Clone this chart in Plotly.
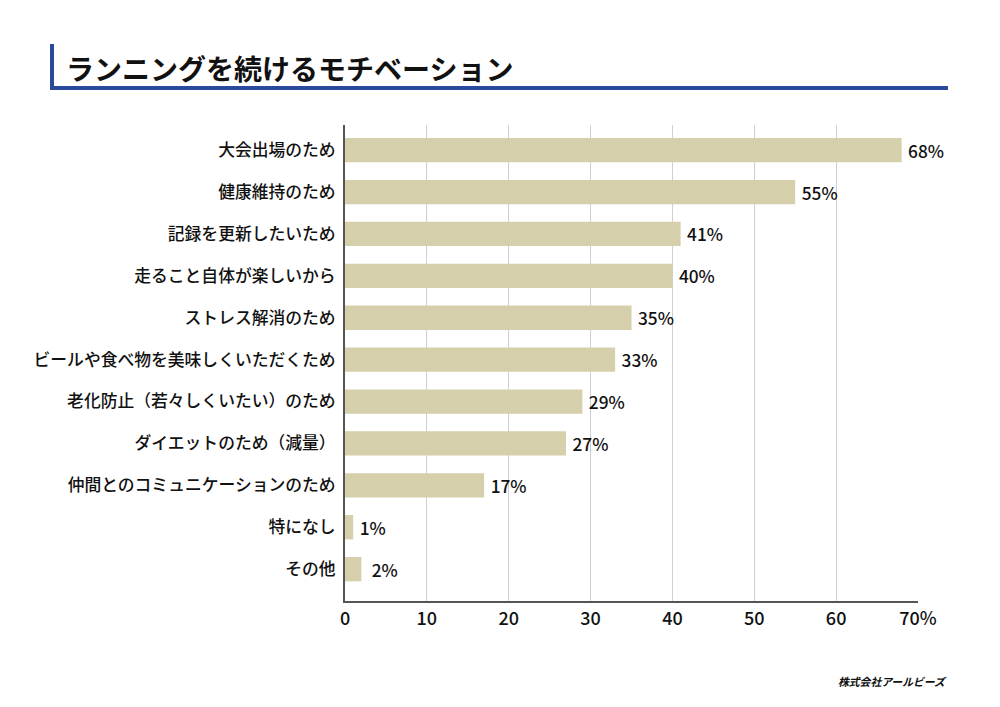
import plotly.graph_objects as go

categories = ["大会出場のため", "健康維持のため", "記録を更新したいため", "走ること自体が楽しいから",
              "ストレス解消のため", "ビールや食べ物を美味しくいただくため", "老化防止（若々しくいたい）のため",
              "ダイエットのため（減量）", "仲間とのコミュニケーションのため", "特になし", "その他"]
values = [68, 55, 41, 40, 35, 33, 29, 27, 17, 1, 2]
value_labels = ["68%", "55%", "41%", "40%", "35%", "33%", "29%", "27%", "17%", "1%", " 2%"]
tick_vals = [0, 10, 20, 30, 40, 50, 60, 70]
tick_text = ["0", "10", "20", "30", "40", "50", "60", "70%"]

FONT = "Noto Sans CJK JP"
BLUE = "#2b4a9b"
INK = "#111111"

# page offset (body margin) compensation
OFF = 8
L, T, PW, PH = 345, 125, 573, 476  # plot area in page pixels


def px(x):
    return (x - L) / PW


def py(y):
    return 1 - (y - T) / PH


fig = go.Figure(go.Bar(
    y=categories, x=values, orientation="h",
    marker=dict(color="#d6cfab", line=dict(width=0)),
    text=["\u2009" + t for t in value_labels], textposition="outside",
    textfont=dict(family=FONT, size=18.5, color=INK, weight=500),
    cliponaxis=False, width=0.58,
))

fig.update_layout(
    width=1000 - OFF, height=707 - OFF,
    margin=dict(l=L - OFF, r=1000 - L - PW, t=T - OFF, b=707 - T - PH),
    plot_bgcolor="white", paper_bgcolor="white",
    font=dict(family=FONT, size=16, color=INK, weight=500),
    showlegend=False,
    xaxis=dict(range=[0, 70], tickvals=tick_vals, ticktext=tick_text,
               showgrid=True, gridcolor="#d0d0d0", gridwidth=1,
               showline=True, linecolor="#555555", linewidth=2,
               ticks="", zeroline=False, tickfont=dict(size=18, weight=500)),
    yaxis=dict(range=[10.76, -0.6], type="category",
               showline=True, linecolor="#555555", linewidth=2,
               ticks="", ticklabelstandoff=4, tickfont=dict(size=16.8, weight=500)),
    shapes=[
        dict(type="rect", xref="paper", yref="paper", x0=px(50), x1=px(54),
             y0=py(44), y1=py(90), fillcolor=BLUE, line_width=0),
        dict(type="rect", xref="paper", yref="paper", x0=px(50), x1=px(948),
             y0=py(86), y1=py(90), fillcolor=BLUE, line_width=0),
    ],
    annotations=[
        dict(text="<b>ランニングを続けるモチベーション</b>", xref="paper", yref="paper",
             x=px(64), y=py(68), xanchor="left", yanchor="middle",
             showarrow=False, font=dict(family=FONT, size=28, color=INK)),
        dict(text="<b><i>株式会社アールビーズ</i></b>", xref="paper", yref="paper",
             x=px(949), y=py(681), xanchor="right", yanchor="middle",
             showarrow=False, font=dict(family=FONT, size=10.8, color=INK)),
    ],
)

fig.write_html("out.html")
